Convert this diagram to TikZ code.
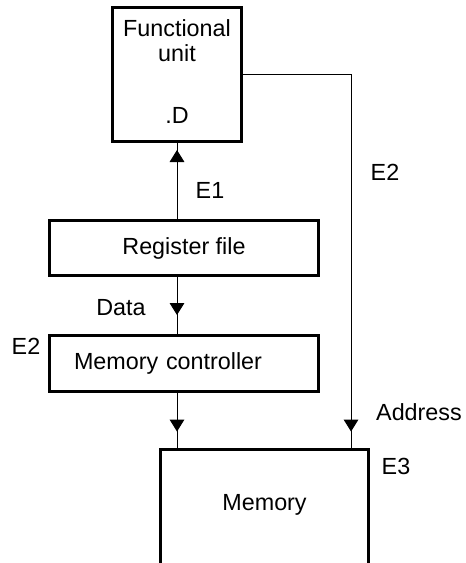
\documentclass[tikz,border=0pt]{standalone}
\usepackage{fontspec}
\setmainfont{Liberation Sans}
\usetikzlibrary{positioning,arrows.meta,calc,decorations.markings}

\begin{document}
\begin{tikzpicture}[
    x=0.75pt, y=-0.75pt,
    font=\fontsize{17.5}{18.75}\selectfont,
    box/.style={draw, line width=2.25pt, align=center, inner sep=0pt},
    wire/.style={line width=0.75pt},
    tipat/.style={postaction={decorate}, decoration={markings, mark=at position #1 with {\arrow{Triangle[length=9pt,width=11pt]}}}},
    lbl/.style={inner sep=0pt}
]
\useasboundingbox (0,0) rectangle (466,563);

% blocks
\node[box, minimum width=96.75pt, minimum height=100.5pt, text depth=4.5pt] (fu) at (177,74.5) {Functional\\unit\\[28pt].D};
\node[box, minimum width=201.75pt, minimum height=41.25pt, below=57pt of fu, xshift=5.25pt] (reg) {Register file};
\node[box, minimum width=201.75pt, minimum height=42pt, below=42.75pt of reg, text width=165pt, align=left, inner xsep=18pt] (mc) {Memory controller};
\node[box, draw=none, outer sep=0pt, minimum width=156pt, minimum height=83.25pt, below=42.4pt of mc, xshift=60.4pt] (mem) {Memory};
\draw[line width=2.25pt] ($(mem.south west)+(0,6)$) -- (mem.north west) -- (mem.north east) -- ($(mem.south east)+(0,6)$);

% connectors
\coordinate (addr) at ($(mem.north east)+(-17.5,0)$);
\draw[wire, tipat=-5.25pt] (fu.south |- reg.north) -- (fu.south);
\draw[wire, tipat=-14.25pt] (fu.south |- reg.south) -- (fu.south |- mc.north);
\draw[wire, tipat=-13.5pt] (fu.south |- mc.south) -- (fu.south |- mem.north);
\draw[wire, tipat=-13.5pt] (fu.east) -| (addr);

% labels
\node[lbl] (e1) at (210,190) {E1};
\node[lbl] (data) at (121,308) {Data};
\node[lbl] (e2mc) at (26,346) {E2};
\node[lbl] (e2fu) at (385,172) {E2};
\node[lbl] (address) at (419,412) {Address};
\node[lbl] (e3) at (396,466) {E3};
\end{tikzpicture}
\end{document}
